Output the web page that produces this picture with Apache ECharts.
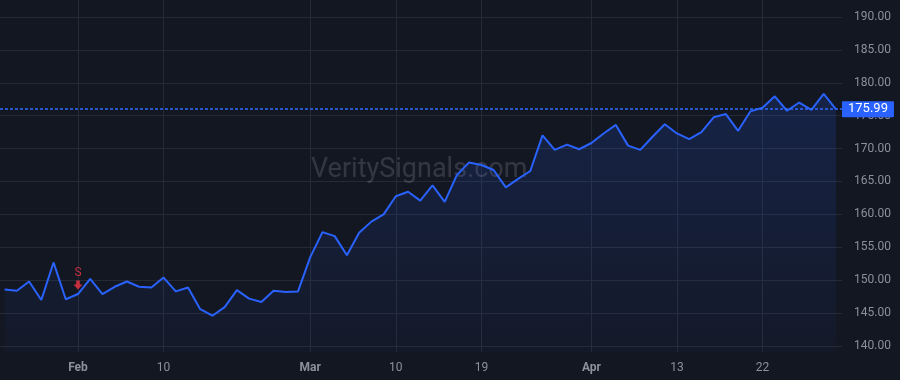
<!DOCTYPE html>
<html>
<head>
<meta charset="utf-8">
<script src="https://cdn.jsdelivr.net/npm/echarts@6/dist/echarts.min.js"></script>
<style>
html,body{margin:0;padding:0;background:#131722;}
#chart{width:900px;height:380px;}
</style>
</head>
<body>
<div id="chart"></div>
<script>
// Trading days (2021)
const dates = [
 '2021-01-22','2021-01-25','2021-01-26','2021-01-27','2021-01-28','2021-01-29',
 '2021-02-01','2021-02-02','2021-02-03','2021-02-04','2021-02-05',
 '2021-02-08','2021-02-09','2021-02-10','2021-02-11','2021-02-12',
 '2021-02-16','2021-02-17','2021-02-18','2021-02-19',
 '2021-02-22','2021-02-23','2021-02-24','2021-02-25','2021-02-26',
 '2021-03-01','2021-03-02','2021-03-03','2021-03-04','2021-03-05',
 '2021-03-08','2021-03-09','2021-03-10','2021-03-11','2021-03-12',
 '2021-03-15','2021-03-16','2021-03-17','2021-03-18','2021-03-19',
 '2021-03-22','2021-03-23','2021-03-24','2021-03-25','2021-03-26',
 '2021-03-29','2021-03-30','2021-03-31','2021-04-01',
 '2021-04-05','2021-04-06','2021-04-07','2021-04-08','2021-04-09',
 '2021-04-12','2021-04-13','2021-04-14','2021-04-15','2021-04-16',
 '2021-04-19','2021-04-20','2021-04-21','2021-04-22','2021-04-23',
 '2021-04-26','2021-04-27','2021-04-28','2021-04-29','2021-04-30'
];
const prices = [
 148.6,148.4,149.8,147.0,152.7,147.1,
 147.9,150.2,147.9,149.0,149.8,
 149.0,148.9,150.4,148.3,148.9,
 145.6,144.6,145.9,148.5,
 147.2,146.7,148.4,148.2,148.3,
 153.5,157.3,156.7,153.8,157.2,
 158.9,160.0,162.75,163.45,162.1,
 164.4,161.9,166.0,167.9,167.5,
 166.75,164.1,165.4,166.6,172.0,
 169.8,170.6,169.9,170.85,
 172.3,173.6,170.45,169.8,171.8,
 173.7,172.3,171.45,172.5,174.75,
 175.25,172.7,175.65,176.2,177.95,
 175.75,177.0,175.9,178.3,175.99
];
const tickDates = ['2021-02-01','2021-02-10','2021-03-01','2021-03-10','2021-03-19','2021-04-01','2021-04-13','2021-04-22'];
const yTicks = [140,145,150,155,160,165,170,175,180,185,190];
const lastPrice = 175.99;
const signalDates = ['2021-02-01'];
const signalLabels = ['S'];

const monthNames = ['Jan','Feb','Mar','Apr','May','Jun','Jul','Aug','Sep','Oct','Nov','Dec'];
const tickIdx = tickDates.map(d => dates.indexOf(d));
const lineData = prices.map((p, i) => [i, p]);
const signalData = signalDates.map(d => { const i = dates.indexOf(d); return [i, prices[i]]; });

const chart = echarts.init(document.getElementById('chart'), null, {renderer:'canvas'});
const gridColor = '#252a36';
const labelColor = '#8b909c';
const blue = '#2962ff';
chart.setOption({
  backgroundColor: '#131722',
  animation: false,
  textStyle: {fontFamily: 'Roboto'},
  grid: {left: 0, right: 58, top: 0, bottom: 28},
  graphic: [{
    type: 'text', left: 311, top: 157, z: 1,
    style: {text: 'VeritySignals.com', fill: 'rgba(255,255,255,0.14)', font: '27px Roboto'}
  }],
  xAxis: {
    type: 'value', min: -0.38, max: 68.5,
    axisLine: {show: false},
    axisTick: {show: false, customValues: tickIdx},
    splitLine: {show: true, lineStyle: {color: gridColor, width: 1}},
    axisLabel: {
      customValues: tickIdx, margin: 10, color: labelColor, fontSize: 12,
      formatter: v => {
        const d = dates[Math.round(v)];
        if (!d) return '';
        const m = parseInt(d.slice(5,7)), day = parseInt(d.slice(8,10));
        return day === 1 ? '{b|' + monthNames[m-1] + '}' : String(day);
      },
      rich: {b: {fontWeight: 'bold', color: labelColor, fontSize: 12, fontFamily: 'Roboto'}}
    }
  },
  yAxis: {
    type: 'value', position: 'right', min: 139.09, max: 192.58,
    axisLine: {show: false},
    axisTick: {show: false, customValues: yTicks},
    splitLine: {show: true, lineStyle: {color: gridColor, width: 1}},
    axisLabel: {customValues: yTicks, color: labelColor, fontSize: 12, margin: 12, formatter: v => v.toFixed(2)}
  },
  series: [{
    type: 'line', data: lineData, symbol: 'none', z: 3,
    lineStyle: {color: blue, width: 2},
    areaStyle: {color: new echarts.graphic.LinearGradient(0,0,0,1,[
      {offset: 0, color: 'rgba(41,98,255,0.24)'},
      {offset: 1, color: 'rgba(41,98,255,0.04)'}
    ])},
    markLine: {
      silent: true, symbol: 'none', animation: false,
      lineStyle: {color: '#2f6bff', type: [3,2], width: 1.5, opacity: 1},
      label: {
        position: 'end', distance: 0, formatter: () => lastPrice.toFixed(2),
        color: '#ffffff', backgroundColor: blue, padding: [2,6,1,6], fontSize: 13, borderRadius: 1
      },
      data: [{yAxis: lastPrice}]
    }
  }, {
    type: 'scatter', data: signalData, z: 4,
    symbol: 'path://M3,0 L7,0 L7,4 L10,4 L5,9 L0,4 L3,4 Z',
    symbolSize: [9, 9], symbolOffset: [0, -9],
    itemStyle: {color: '#f23645'},
    label: {show: true, position: 'top', distance: 2, color: '#f23645', fontSize: 12,
      formatter: p => signalLabels[p.dataIndex]}
  }]
});
</script>
</body>
</html>
